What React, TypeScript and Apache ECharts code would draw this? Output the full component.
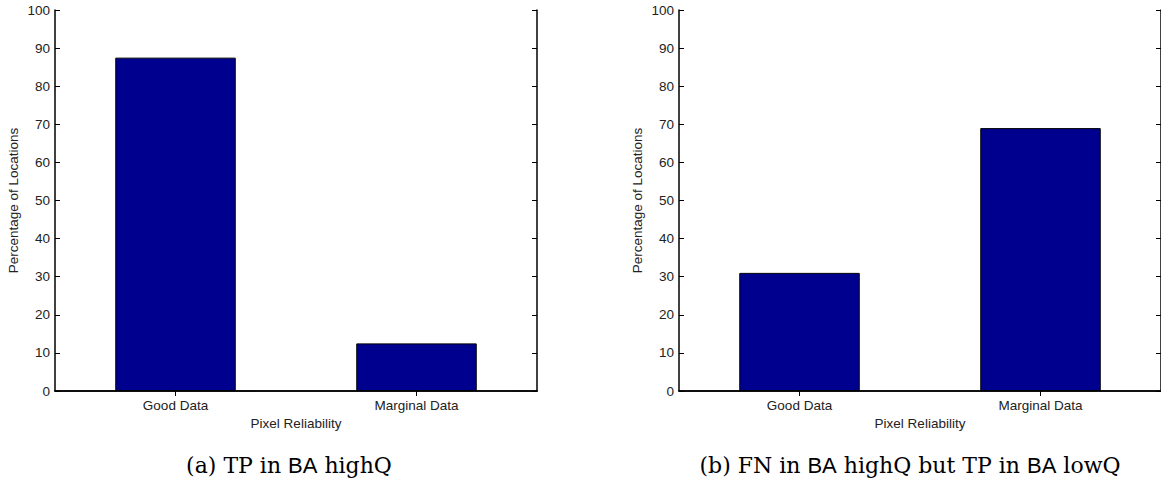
import React, { useEffect, useRef } from "react";
import * as echarts from "echarts";

const categories = ["Good Data", "Marginal Data"];
const seriesA = [87.5, 12.5];
const seriesB = [31, 69];
const yTicks = [0, 10, 20, 30, 40, 50, 60, 70, 80, 90, 100];
const captionA = ["(a) TP in ", "BA", " highQ"];
const captionB = ["(b) FN in ", "BA", " highQ but TP in ", "BA", " lowQ"];

const FONT = "Liberation Sans";
const SERIF = "DejaVu Serif";
const BAR = "#00008F";
const FS = 13.5;

export default function App() {
  const ref = useRef<HTMLDivElement>(null);
  useEffect(() => {
    if (!ref.current) return;
    const chart = echarts.init(ref.current, undefined, { renderer: "svg" });
    const grids = [
      { left: 55, top: 10, width: 482, height: 381 },
      { left: 679, top: 10, width: 483, height: 381 },
    ];
    const xAxes: any[] = [];
    const yAxes: any[] = [];
    grids.forEach((_, i) => {
      xAxes.push({
        type: "category",
        gridIndex: i,
        data: categories,
        position: "bottom",
        name: "Pixel Reliability",
        nameLocation: "middle",
        nameGap: 24,
        nameTextStyle: { fontFamily: FONT, fontSize: FS, color: "#222" },
        axisLine: { lineStyle: { color: "#000", width: 1.5 } },
        axisTick: { show: false },
        axisLabel: { fontFamily: FONT, fontSize: FS, color: "#222", margin: 7 },
        splitLine: { show: false },
      });
      xAxes.push({
        type: "category",
        gridIndex: i,
        data: categories,
        position: "top",
        axisLine: { lineStyle: { color: "#000", width: 1.5 } },
        axisTick: { show: true, inside: true, alignWithLabel: true, length: 5, lineStyle: { color: "#000" } },
        axisLabel: { show: false },
        splitLine: { show: false },
      });
      yAxes.push({
        type: "value",
        gridIndex: i,
        min: 0,
        max: 100,
        interval: 10,
        position: "left",
        name: "Percentage of Locations",
        nameLocation: "middle",
        nameGap: 35,
        nameTextStyle: { fontFamily: FONT, fontSize: FS, color: "#222" },
        axisLine: { show: true, lineStyle: { color: "#000", width: 1.5 } },
        axisTick: { show: true, inside: true, length: 5, lineStyle: { color: "#000" } },
        axisLabel: {
          fontFamily: FONT,
          fontSize: FS,
          color: "#222",
          margin: 5,
          formatter: (v: number) => (yTicks.includes(v) ? String(v) : ""),
        },
        splitLine: { show: false },
      });
      yAxes.push({
        type: "value",
        gridIndex: i,
        min: 0,
        max: 100,
        interval: 10,
        position: "right",
        axisLine: { show: true, lineStyle: { color: "#000", width: 1.5 } },
        axisTick: { show: true, inside: true, length: 5, lineStyle: { color: "#000" } },
        axisLabel: { show: false },
        splitLine: { show: false },
      });
    });

    const richStyles = {
      s: { fontFamily: SERIF, fontSize: 22, color: "#000" },
      b: { fontFamily: FONT, fontSize: 22, color: "#000" },
    };
    const mk = (parts: string[]) =>
      parts.map((p) => (p === "BA" ? `{b|${p}}` : `{s|${p}}`)).join("");

    chart.setOption({
      animation: false,
      grid: grids,
      xAxis: xAxes,
      yAxis: yAxes,
      series: [
        {
          type: "bar",
          xAxisIndex: 0,
          yAxisIndex: 0,
          data: seriesA,
          barWidth: "50%",
          itemStyle: { color: BAR, borderColor: "#000", borderWidth: 1 },
        },
        {
          type: "bar",
          xAxisIndex: 2,
          yAxisIndex: 2,
          data: seriesB,
          barWidth: "50%",
          itemStyle: { color: BAR, borderColor: "#000", borderWidth: 1 },
        },
      ],
      graphic: [
        {
          type: "text",
          x: 289,
          y: 465,
          style: {
            text: mk(captionA),
            rich: richStyles,
            align: "center",
            verticalAlign: "middle",
          },
        },
        {
          type: "text",
          x: 910,
          y: 465,
          style: {
            text: mk(captionB),
            rich: richStyles,
            align: "center",
            verticalAlign: "middle",
          },
        },
      ],
    });
    return () => chart.dispose();
  }, []);
  return (
    <div
      ref={ref}
      style={{ position: "fixed", left: 0, top: 0, width: 1161, height: 483, background: "#fff" }}
    />
  );
}
